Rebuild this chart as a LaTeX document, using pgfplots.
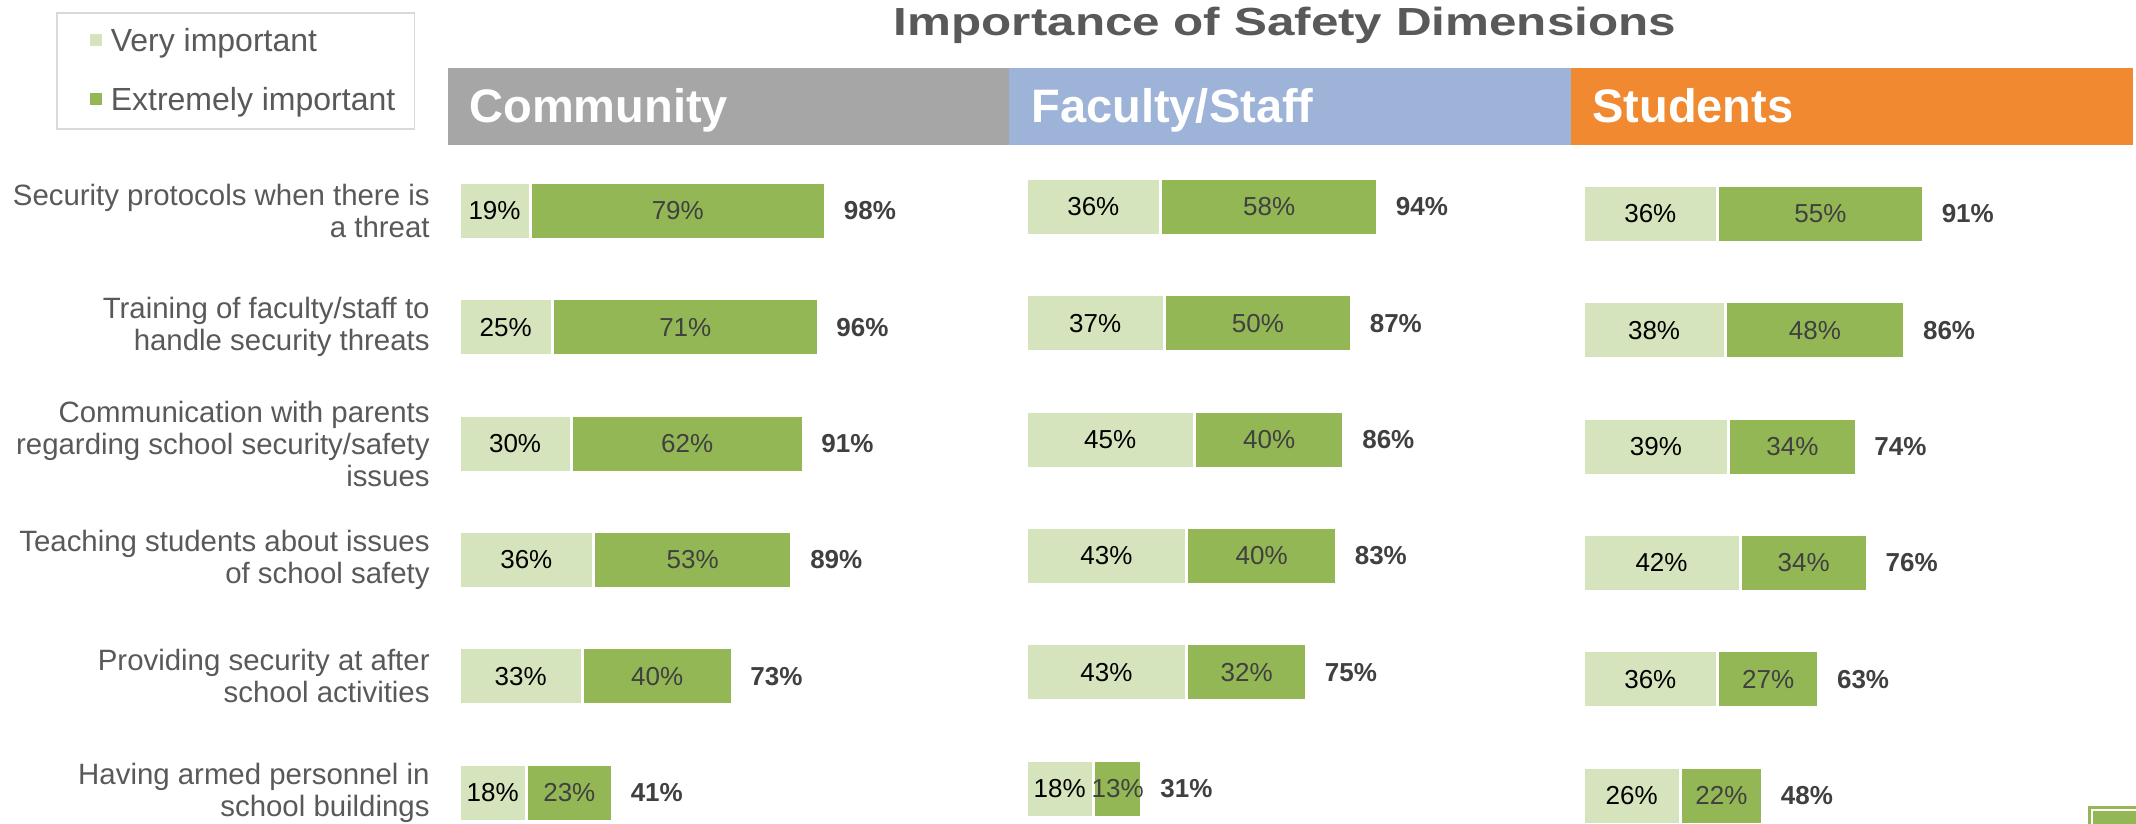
\documentclass[border=0pt]{standalone}
\usepackage{fontspec}
\setmainfont{Liberation Sans}
\usepackage{graphicx}
\usepackage{pgfplots}
\usepackage{pgfplotstable}
\pgfplotsset{compat=1.18}

\definecolor{lightgreen}{HTML}{D6E4BD}
\definecolor{darkgreen}{HTML}{94B755}
\definecolor{hdrgray}{HTML}{A6A6A6}
\definecolor{hdrblue}{HTML}{9EB3D8}
\definecolor{hdrorange}{HTML}{F0892F}
\definecolor{labelgray}{HTML}{595959}
\definecolor{darktext}{HTML}{404040}
\definecolor{legendgray}{HTML}{D9D9D9}

% v = very important, e = extremely important, s = bar end (v+e), t = total shown
\pgfplotstableread{
row v e s t
0 19 79 98 98
1 25 71 96 96
2 30 62 92 91
3 36 53 89 89
4 33 40 73 73
5 18 23 41 41
}\community
\pgfplotstableread{
row v e s t
0 36 58 94 94
1 37 50 87 87
2 45 40 85 86
3 43 40 83 83
4 43 32 75 75
5 18 13 31 31
}\faculty
\pgfplotstableread{
row v e s t
0 36 55 91 91
1 38 48 86 86
2 39 34 73 74
3 42 34 76 76
4 36 27 63 63
5 26 22 48 48
}\students

\pgfplotsset{
  /pgf/number format/assume math mode=true,
  geom/.style={
    scale only axis,
    width=280.5pt, height=334.4pt,
    xmin=0, xmax=150, ymin=-0.5, ymax=5.25,
    y dir=reverse,
    clip=false,
    anchor=north west,
  },
  panel/.style={
    geom,
    xbar stacked,
    axis line style={draw=none},
    major tick length=0pt,
    xtick=\empty,
    bar width=28.5pt,
    nodes near coords={\pgfmathprintnumber{\pgfplotspointmeta}\%},
    every node near coord/.append style={font=\fontsize{13}{15}\selectfont},
  },
  totpanel/.style={geom, hide axis},
  vi/.style={fill=lightgreen, draw=white, line width=1.5pt, point meta=\thisrow{v},
    every node near coord/.append style={text=black}},
  ei/.style={fill=darkgreen, draw=white, line width=1.5pt, point meta=\thisrow{e},
    every node near coord/.append style={text=darktext}},
  tot/.style={draw=none, mark=none, point meta=\thisrow{t},
    nodes near coords={\textbf{\pgfmathprintnumber{\pgfplotspointmeta}\%}},
    every node near coord/.append style={anchor=west, xshift=9pt, inner sep=0pt,
      text=darktext, font=\fontsize{13}{15}\selectfont}},
}

\begin{document}
\begin{tikzpicture}
\path[use as bounding box] (0,0) rectangle (1068pt,412pt);

% title
\node[anchor=base, text=labelgray, font=\bfseries\fontsize{19.6}{22}\selectfont, inner sep=0pt]
  at (642.5pt,394pt) {\scalebox{1.26}[1]{Importance of Safety Dimensions}};

% panel headers
\fill[hdrgray] (224pt,339.5pt) rectangle (504.5pt,378pt);
\fill[hdrblue] (504.5pt,339.5pt) rectangle (785.5pt,378pt);
\fill[hdrorange] (785.5pt,339.5pt) rectangle (1066.5pt,378pt);
\node[anchor=base west, text=white, font=\bfseries\fontsize{23.5}{26}\selectfont, inner sep=0pt]
  at (234.5pt,350.5pt) {Community};
\node[anchor=base west, text=white, font=\bfseries\fontsize{23.5}{26}\selectfont, inner sep=0pt]
  at (515.5pt,350.5pt) {Faculty/Staff};
\node[anchor=base west, text=white, font=\bfseries\fontsize{23.5}{26}\selectfont, inner sep=0pt]
  at (796pt,350.5pt) {Students};

% Community
\begin{axis}[panel, at={(229.5pt,335.6pt)},
  ytick={0,...,5},
  yticklabels={{Security protocols when there is\\a threat},
    {Training of faculty/staff to\\handle security threats},
    {Communication with parents\\regarding school security/safety\\issues},
    {Teaching students about issues\\of school safety},
    {Providing security at after\\school activities},
    {Having armed personnel in\\school buildings}},
  yticklabel style={align=right, text=labelgray, font=\fontsize{14.7}{16}\selectfont, inner xsep=0pt, xshift=-14.5pt},
  legend style={at={(axis description cs:-0.7184,1.2106)}, anchor=north west,
    draw=legendgray, line width=0.8pt, fill=white,
    font=\fontsize{16}{18}\selectfont, text=labelgray,
    inner xsep=7.5pt, inner ysep=6pt, row sep=12pt},
  legend image code/.code={\path (0pt,0pt) -- (16pt,0pt);
    \fill[#1,draw=none] (8.5pt,-2.3pt) rectangle (14.5pt,3.7pt);},
  legend cell align=left,
]
\addplot[vi] table[x=v,y=row]{\community};
\addplot[ei] table[x=e,y=row]{\community};
\legend{Very important, Extremely important}
\end{axis}
\begin{axis}[totpanel, at={(229.5pt,335.6pt)}]
\addplot[tot] table[x=s,y=row]{\community};
\end{axis}

% Faculty/Staff
\begin{axis}[panel, at={(513pt,337.6pt)}, ytick=\empty]
\addplot[vi] table[x=v,y=row]{\faculty};
\addplot[ei] table[x=e,y=row]{\faculty};
\end{axis}
\begin{axis}[totpanel, at={(513pt,337.6pt)}]
\addplot[tot] table[x=s,y=row]{\faculty};
\end{axis}

% Students
\begin{axis}[panel, at={(791.5pt,334.1pt)}, ytick=\empty]
\addplot[vi] table[x=v,y=row]{\students};
\addplot[ei] table[x=e,y=row]{\students};
\end{axis}
\begin{axis}[totpanel, at={(791.5pt,334.1pt)}]
\addplot[tot] table[x=s,y=row]{\students};
\end{axis}

% slide decoration
\fill[darkgreen] (1044pt,-2pt) rectangle (1070pt,9pt);
\draw[white, line width=0.7pt] (1046pt,-2pt) -- (1046pt,7pt) -- (1070pt,7pt);
\end{tikzpicture}
\end{document}
